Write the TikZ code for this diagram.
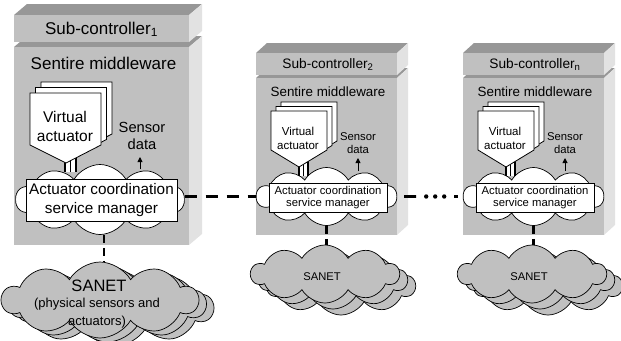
\documentclass[tikz,border=0pt]{standalone}
\usepackage{fontspec}
\setmainfont{Liberation Sans}
\usetikzlibrary{shapes.symbols,arrows.meta,calc}
\definecolor{frontgray}{HTML}{C0C0C0}
\definecolor{topgray}{HTML}{979797}
\definecolor{sidegray}{HTML}{E2E2E2}
\newcommand\blockbox[6]{%
  \fill[topgray] (#1,#2) -- (#3,#2) -- ++(#5,-#6) -- ++({#1-#3},0) -- cycle;
  \fill[sidegray] (#3,#2) -- ++(#5,-#6) -- ++(0,{#4-#2}) -- (#3,#4) -- cycle;
  \fill[frontgray] (#1,#2) rectangle (#3,#4);}
\newcommand\vapage[6]{%
  \filldraw[fill=white,draw=black,line width=0.8pt,line join=miter] (#1,#2) -- (#3,#2) -- (#3,#4) -- (#5,#6) -- (#1,#4) -- cycle;}
\tikzset{
  txt/.style={inner sep=0pt, align=center, text=black},
  wcloud/.style={cloud, cloud puffs=10, cloud puff arc=120, cloud ignores aspect, draw=black, line width=0.7pt, fill=white, inner sep=0pt},
  gcloud/.style={cloud, cloud puffs=10, cloud puff arc=120, cloud ignores aspect, draw=black, line width=0.7pt, fill=frontgray, inner sep=0pt},
  acrect/.style={draw=black, line width=0.8pt, fill=white, inner sep=0pt, align=center},
  hdash/.style={line width=2.6pt, dash pattern=on 12pt off 9pt},
  vdash/.style={line width=2.2pt, dash pattern=on 8pt off 5pt},
  sarrow/.style={line width=0.9pt, -{Triangle[length=5pt,width=5pt]}},
  bar/.style={line width=1.3pt}
}
\newcommand\smallunit[3]{%
\begin{scope}[xshift=#3pt]
  \blockbox{256}{78}{397}{235}{11}{10}
  \blockbox{256}{53}{397}{75}{11}{10}
  \node[txt, font=\fontsize{13.7}{16}\selectfont] (h#1) at (328,64.5) {Sub-controller\textsubscript{#2}};
  \node[txt, font=\fontsize{13.4}{16}\selectfont] (m#1) at (328,92) {Sentire middleware};
  \node[wcloud, minimum width=140pt, minimum height=58pt] (cl#1) at (326.5,196.5) {};
  \fill[white] (298.5,156) rectangle (308.5,176);
  \draw[bar] (299,156) -- (299,176) (303.5,156) -- (303.5,176) (308,156) -- (308,176);
  \vapage{281}{102}{337}{141}{309}{158}
  \vapage{276}{106.5}{332}{145.5}{304}{162.5}
  \vapage{271}{111}{327}{150}{299}{167}
  \node[txt, font=\fontsize{11.5}{14}\selectfont] (va#1) at (298,138) {Virtual\\actuator};
  \node[txt, font=\fontsize{11.3}{13}\selectfont] (sd#1) at (358,143) {Sensor\\data};
  \coordinate (sa#1) at (358,171);
  \draw[sarrow] (sa#1) -- ++(0,-13);
  \node[acrect, minimum width=118pt, minimum height=29pt, font=\fontsize{11.3}{12.5}\selectfont] (ac#1) at (328,197.5) {Actuator coordination\\service manager};
  \node[gcloud, minimum width=148pt, minimum height=58pt] (sc#1) at (341,286) {};
  \node[gcloud, minimum width=148pt, minimum height=58pt] (sb#1) at (333,280) {};
  \node[gcloud, minimum width=148pt, minimum height=58pt] (s#1) at (325,274) {};
  \node[txt, font=\fontsize{11.2}{13}\selectfont] (st#1) at (322,277) {SANET};
  \draw[vdash] (cl#1.south) -- (cl#1.south |- s#1.north);
\end{scope}}
\begin{document}
\begin{tikzpicture}[x=1pt, y=-1pt]
  \useasboundingbox (0,0) rectangle (621,340);
  % sub-controller 1
  \blockbox{14}{47}{189}{245}{13}{11}
  \blockbox{14}{15}{189}{42}{13}{11}
  \node[txt, font=\fontsize{17}{20}\selectfont] (h1) at (101.5,29.5) {Sub-controller\textsubscript{1}};
  \node[txt, font=\fontsize{17}{20}\selectfont] (m1) at (103.5,63) {Sentire middleware};
  \node[wcloud, minimum width=168pt, minimum height=70pt] (cl1) at (100,199.5) {};
  \fill[white] (64.5,152) rectangle (76.5,172);
  \draw[bar] (65,152) -- (65,172) (70.5,152) -- (70.5,172) (76,152) -- (76,172);
  \vapage{41}{82}{112}{134}{77}{152}
  \vapage{35.5}{87.5}{106.5}{139.5}{71.5}{157.5}
  \vapage{30}{93}{101}{145}{66}{163}
  \node[txt, font=\fontsize{15.5}{19}\selectfont] (va1) at (65,126) {Virtual\\actuator};
  \node[txt, font=\fontsize{14.7}{17}\selectfont] (sd1) at (142,136) {Sensor\\data};
  \coordinate (sa1) at (140,169);
  \draw[sarrow] (sa1) -- ++(0,-12);
  \node[acrect, minimum width=151pt, minimum height=42pt, font=\fontsize{15.3}{19.5}\selectfont] (ac1) at (101.5,200) {Actuator coordination\\service manager};
  \node[gcloud, minimum width=196pt, minimum height=76pt] (s1c) at (115,308) {};
  \node[gcloud, minimum width=196pt, minimum height=76pt] (s1b) at (107.5,304) {};
  \node[gcloud, minimum width=196pt, minimum height=76pt] (s1) at (100,300) {};
  \node[txt, font=\fontsize{16.5}{19}\selectfont] (st1) at (99,286) {SANET};
  \node[txt, font=\fontsize{13}{18}\selectfont] (sp1) at (97,313) {(physical sensors and\\actuators)};
  \draw[vdash] ([xshift=4pt]cl1.south) -- ([xshift=4pt]cl1.south |- s1.north);
  % sub-controllers 2 and n
  \smallunit{2}{2}{0}
  \smallunit{n}{n}{207}
  % links
  \draw[hdash] (cl1.east |- cl2.west) -- (cl2.west);
  \draw[line width=2.6pt, shorten <=7pt, shorten >=5pt, dash pattern=on 12pt off 38pt on 12pt] (cl2.east) -- (cln.west);
  \fill ([xshift=29pt]cl2.east) circle (2.2pt) ([xshift=38pt]cl2.east) circle (2.2pt) ([xshift=47pt]cl2.east) circle (2.2pt);
\end{tikzpicture}
\end{document}
